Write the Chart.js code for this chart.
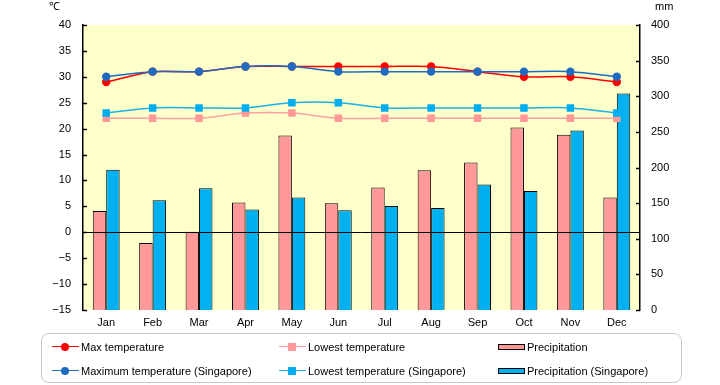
<!DOCTYPE html>
<html>
<head>
<meta charset="utf-8">
<script src="https://cdn.jsdelivr.net/npm/chart.js@4/dist/chart.umd.min.js"></script>
<style>
  html, body { margin:0; padding:0; background:#fff; }
  #wrap { position:relative; width:720px; height:385px; font-family:"Liberation Sans", Arial, sans-serif; font-size:11px; color:#000; }
  #c { position:absolute; left:0; top:0; }
  .unit { position:absolute; top:0; font-size:11px; line-height:13px; }
  #legendBox { position:absolute; left:41px; top:333px; width:639px; height:48px; border:1.5px solid #c8c8c8; border-radius:8px; }
  .li { position:absolute; height:14px; }
  .li .txt { position:absolute; top:0; white-space:nowrap; line-height:14px; font-size:11px; }
  .li .ln { position:absolute; top:6px; height:0; border-top:1.5px solid; }
  .li .mk { position:absolute; }
  .li .sw { position:absolute; top:4px; height:4px; border:1px solid #000; }
</style>
</head>
<body>
<div id="wrap">
  <canvas id="c" width="720" height="385"></canvas>
  <div class="unit" style="left:49px;">℃</div>
  <div class="unit" style="left:655px;">mm</div>
  <div id="legendBox"></div>
  <div id="legend"></div>
</div>
<script>
const categories = ['Jan','Feb','Mar','Apr','May','Jun','Jul','Aug','Sep','Oct','Nov','Dec'];
const maxTemp    = [29, 31, 31, 32, 32, 32, 32, 32, 31, 30, 30, 29];
const minTemp    = [22, 22, 22, 23, 23, 22, 22, 22, 22, 22, 22, 22];
const maxTempSg  = [30, 31, 31, 32, 32, 31, 31, 31, 31, 31, 31, 30];
const minTempSg  = [23, 24, 24, 24, 25, 25, 24, 24, 24, 24, 24, 23];
const precip     = [139, 94, 110, 151, 245, 150, 172, 196, 207, 256, 246, 158];
const precipSg   = [197, 154, 171, 141, 158, 140, 146, 143, 176, 167, 252, 304];
const tempTicks  = [-15, -10, -5, 0, 5, 10, 15, 20, 25, 30, 35, 40];
const precipTicks = [0, 50, 100, 150, 200, 250, 300, 350, 400];
const labels = {
  maxTemp: 'Max temperature',
  minTemp: 'Lowest temperature',
  precip: 'Precipitation',
  maxTempSg: 'Maximum temperature (Singapore)',
  minTempSg: 'Lowest temperature (Singapore)',
  precipSg: 'Precipitation (Singapore)'
};

Chart.defaults.font.family = '"Liberation Sans", Arial, sans-serif';
Chart.defaults.font.size = 11;
Chart.defaults.color = '#000';

const bgPlugin = {
  id: 'bg',
  beforeDraw(chart) {
    const {ctx, chartArea: a} = chart;
    ctx.save();
    ctx.fillStyle = '#FFFFCC';
    ctx.fillRect(a.left, a.top, a.right - a.left, a.bottom - a.top);
    ctx.restore();
  },
  afterDatasetsDraw(chart) {
    const {ctx, chartArea: a, scales} = chart;
    ctx.save();
    ctx.strokeStyle = '#000';
    ctx.lineWidth = 1;
    const y0 = Math.round(scales.y.getPixelForValue(0)) + 0.5;
    ctx.beginPath(); ctx.moveTo(a.left, y0); ctx.lineTo(a.right, y0); ctx.stroke();
    ctx.lineWidth = 1.5;
    scales.y.ticks.forEach(t => {
      const p = Math.round(scales.y.getPixelForValue(t.value)) + 0.5;
      ctx.beginPath(); ctx.moveTo(a.left, p); ctx.lineTo(a.left + 4, p); ctx.stroke();
    });
    scales.y2.ticks.forEach(t => {
      const p = Math.round(scales.y2.getPixelForValue(t.value)) + 0.5;
      ctx.beginPath(); ctx.moveTo(a.right - 4, p); ctx.lineTo(a.right, p); ctx.stroke();
    });
    ctx.restore();
  }
};

const lineCommon = { type: 'line', yAxisID: 'y', tension: 0.3, borderWidth: 1.5, pointBorderWidth: 0 };

const chart = new Chart(document.getElementById('c'), {
  data: {
    labels: categories,
    datasets: [
      Object.assign({}, lineCommon, { label: labels.maxTemp, data: maxTemp, order: 2, borderColor: '#FF0000', backgroundColor: '#FF0000', pointStyle: 'circle', pointRadius: 4.2 }),
      Object.assign({}, lineCommon, { label: labels.maxTempSg, data: maxTempSg, order: 1, borderColor: '#1F6BBF', backgroundColor: '#1F6BBF', pointStyle: 'circle', pointRadius: 4.2 }),
      Object.assign({}, lineCommon, { label: labels.minTemp, data: minTemp, order: 2, borderColor: '#FF9F9F', backgroundColor: '#FF9999', pointStyle: 'rect', pointRadius: 5.3 }),
      Object.assign({}, lineCommon, { label: labels.minTempSg, data: minTempSg, order: 1, borderColor: '#1AB0E8', backgroundColor: '#00AEEF', pointStyle: 'rect', pointRadius: 5.3 }),
      { type: 'bar', label: labels.precip, data: precip, yAxisID: 'y2', backgroundColor: '#FF9999', borderColor: '#000', borderWidth: 1, order: 5, categoryPercentage: 0.58, barPercentage: 1 },
      { type: 'bar', label: labels.precipSg, data: precipSg, yAxisID: 'y2', backgroundColor: '#00B0F0', borderColor: '#000', borderWidth: 1, order: 5, categoryPercentage: 0.58, barPercentage: 1 }
    ]
  },
  options: {
    responsive: false,
    animation: false,
    layout: { padding: { left: 0, right: 0, top: 25, bottom: 55 } },
    plugins: { legend: { display: false }, tooltip: { enabled: false } },
    scales: {
      x: {
        grid: { display: false, drawTicks: false },
        border: { display: false },
        ticks: { padding: 6, maxRotation: 0 },
        afterFit(s) { s.height = 20; }
      },
      y: {
        position: 'left',
        min: tempTicks[0], max: tempTicks[tempTicks.length - 1],
        afterBuildTicks(s) { s.ticks = tempTicks.map(v => ({ value: v })); },
        ticks: { padding: 12, callback: v => (v < 0 ? '\u2212' + Math.abs(v) : String(v)) },
        grid: { display: false, drawTicks: false },
        border: { display: true, color: '#000', width: 1.5 },
        afterFit(s) { s.width = 83; }
      },
      y2: {
        position: 'right',
        min: precipTicks[0], max: precipTicks[precipTicks.length - 1],
        afterBuildTicks(s) { s.ticks = precipTicks.map(v => ({ value: v })); },
        ticks: { padding: 11 },
        grid: { display: false, drawTicks: false },
        border: { display: true, color: '#000', width: 1.5 },
        afterFit(s) { s.width = 80; }
      }
    }
  },
  plugins: [bgPlugin]
});

// HTML legend built from the chart's datasets
const legendLayout = [
  { ds: 0, left: 52, top: 340 },
  { ds: 2, left: 279, top: 340 },
  { ds: 4, left: 498, top: 340 },
  { ds: 1, left: 52, top: 364 },
  { ds: 3, left: 279, top: 364 },
  { ds: 5, left: 498, top: 364 }
];
const legendEl = document.getElementById('legend');
legendLayout.forEach(item => {
  const d = chart.data.datasets[item.ds];
  const li = document.createElement('div');
  li.className = 'li';
  li.style.left = item.left + 'px';
  li.style.top = item.top + 'px';
  let html = '';
  if (d.type === 'bar') {
    html += '<div class="sw" style="left:0;width:25px;background:' + d.backgroundColor + '"></div>';
    html += '<div class="txt" style="left:29px">' + d.label + '</div>';
  } else {
    html += '<div class="ln" style="left:0;width:27px;border-color:' + d.borderColor + '"></div>';
    if (d.pointStyle === 'circle') {
      html += '<div class="mk" style="left:9px;top:3px;width:8px;height:8px;border-radius:50%;background:' + d.backgroundColor + '"></div>';
    } else {
      html += '<div class="mk" style="left:9px;top:3px;width:8px;height:8px;background:' + d.backgroundColor + '"></div>';
    }
    html += '<div class="txt" style="left:29px">' + d.label + '</div>';
  }
  li.innerHTML = html;
  legendEl.appendChild(li);
});
</script>
</body>
</html>
